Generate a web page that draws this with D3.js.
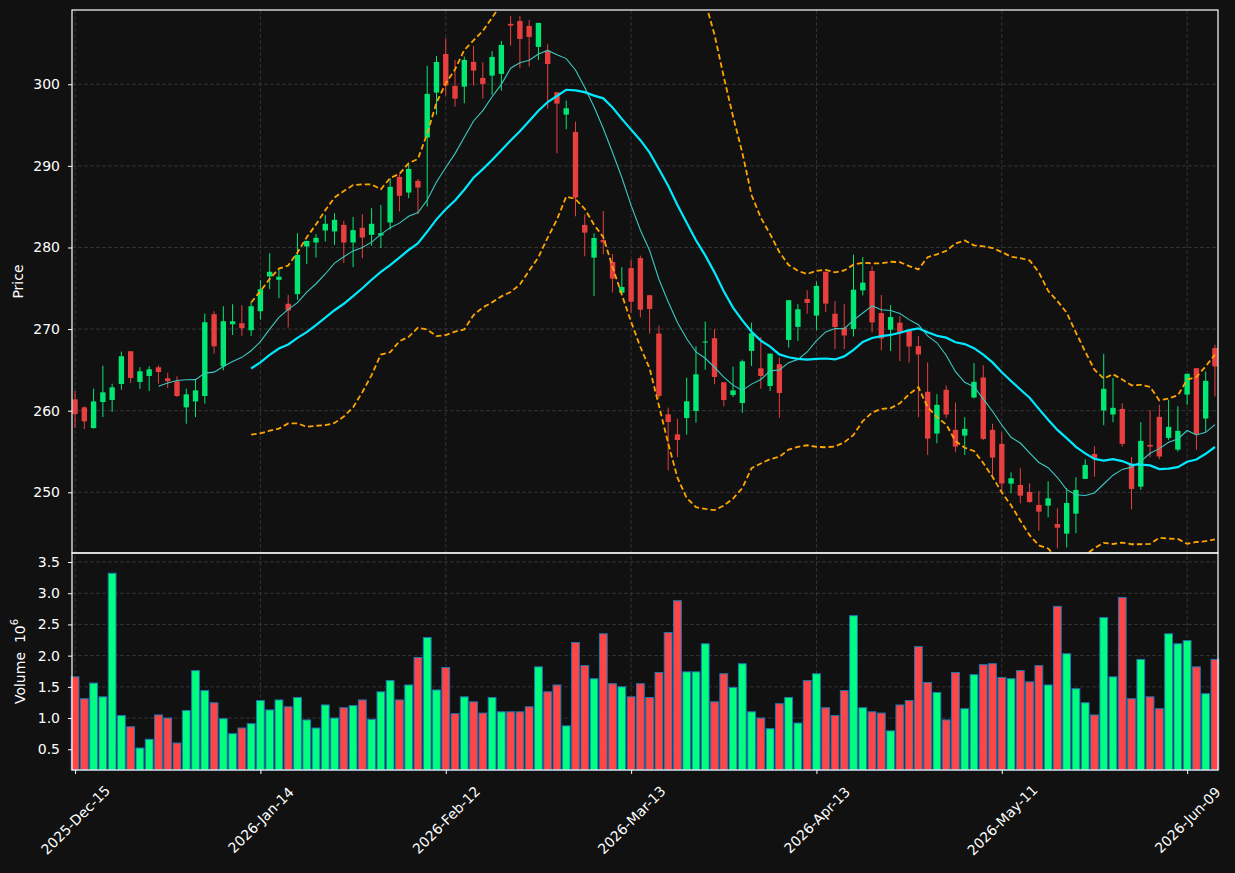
<!DOCTYPE html>
<html>
<head>
<meta charset="utf-8">
<script src="https://cdn.jsdelivr.net/npm/d3@7/dist/d3.min.js"></script>
<style>
  body { margin: 0; background: #111111; }
  text { font-family: "DejaVu Sans", sans-serif; }
</style>
</head>
<body>
<div id="chart"></div>
<script>
// OHLC + volume, one entry per trading day (index based x axis)
const opens = [261.39,260.41,257.87,261.06,261.31,263.27,267.28,263.52,264.25,265.32,263.97,263.60,260.41,261.14,261.80,271.82,265.44,270.59,270.72,269.86,
  272.19,276.45,276.04,273.10,274.28,280.12,280.61,282.08,281.96,282.77,280.61,282.41,281.55,281.47,283.06,288.65,286.73,288.16,293.47,298.98,
  303.71,299.80,299.71,302.74,300.78,301.06,301.27,307.40,307.76,307.15,304.58,304.13,299.02,296.28,294.16,282.76,278.75,280.92,278.22,274.46,
  277.47,278.70,274.15,269.45,259.55,257.10,259.10,259.96,268.39,268.88,263.48,261.92,260.94,267.32,265.19,263.02,265.69,268.67,270.27,273.69,
  271.65,277.03,271.88,270.16,270.00,274.74,277.12,271.96,269.92,270.78,269.80,267.91,262.31,257.20,262.56,257.65,256.95,261.62,264.07,257.65,
  255.93,251.06,250.90,250.04,248.45,248.36,246.11,244.93,247.38,251.64,254.70,260.02,259.53,260.22,253.48,250.69,255.81,259.24,256.67,255.23,
  261.98,265.21,259.04,267.67];
const highs = [262.41,260.53,262.70,265.52,263.31,267.24,267.30,265.32,265.44,265.56,264.66,264.21,262.70,263.80,271.90,272.19,272.80,273.04,272.92,273.30,
  275.99,279.30,277.26,274.20,281.75,280.81,281.63,283.96,284.20,283.26,283.75,284.08,284.81,285.22,288.49,288.98,290.20,288.41,302.25,303.47,
  305.63,302.98,303.39,304.70,302.70,304.05,305.31,308.38,308.38,307.89,307.52,304.90,299.02,298.00,295.42,284.06,281.74,284.47,279.20,277.57,
  278.50,279.00,274.15,270.43,260.37,259.02,264.05,267.89,270.92,270.00,263.48,265.40,266.26,270.80,269.04,267.00,266.50,273.54,273.05,274.76,
  275.82,277.03,273.44,273.07,279.12,278.83,277.69,274.17,272.94,271.60,269.80,269.14,265.91,262.02,263.09,261.00,259.20,265.83,265.58,258.38,
  257.34,252.45,252.94,251.10,250.16,251.35,248.04,250.49,251.84,254.05,255.64,266.97,264.03,260.92,254.34,258.59,260.06,260.72,261.33,260.55,
  264.52,265.21,264.81,268.08];
const lows = [257.91,257.75,257.80,259.22,259.84,262.58,263.39,262.66,262.41,263.31,262.78,261.68,258.40,259.22,260.86,266.99,264.95,269.28,269.16,269.16,
  271.17,274.90,273.79,270.20,273.59,277.96,278.77,280.73,280.32,278.08,277.59,278.69,280.20,279.92,282.16,284.41,286.04,284.08,285.02,296.24,
  298.60,297.26,297.67,299.84,298.24,298.69,299.22,304.74,301.96,302.17,302.98,297.02,291.54,294.48,283.82,278.92,274.05,279.16,274.50,274.38,
  272.00,271.43,269.45,261.47,252.68,254.31,257.06,258.53,265.03,263.23,260.53,261.68,259.75,265.48,262.70,262.40,259.14,267.73,268.55,271.90,
  269.85,272.09,267.55,267.55,269.10,274.13,269.59,267.38,267.30,266.07,265.90,259.20,254.58,256.01,259.08,254.91,254.58,261.50,256.40,251.72,
  249.88,249.88,248.65,248.71,245.30,246.93,243.13,243.25,244.97,251.60,251.92,258.22,258.59,255.60,247.91,250.29,254.29,254.05,256.42,254.99,
  260.72,255.19,257.44,261.74];
const closes = [259.59,258.69,261.14,262.25,262.86,266.67,264.01,264.83,265.07,264.74,263.60,261.80,262.00,262.49,270.84,267.89,270.96,270.96,270.10,272.80,
  274.89,277.02,276.41,272.28,279.10,280.81,281.18,282.90,283.39,280.61,282.12,281.22,282.90,281.75,287.43,286.33,289.63,287.35,298.82,302.73,
  299.84,298.24,302.98,301.68,300.04,303.35,304.82,307.19,305.56,305.80,307.52,302.49,297.63,297.06,286.11,281.82,281.16,280.63,276.18,275.16,
  273.35,272.37,272.47,261.80,258.61,256.40,261.15,264.46,268.47,264.13,261.31,262.49,266.05,269.49,264.25,266.99,262.17,273.54,272.43,273.21,
  275.29,273.12,270.25,269.22,274.83,275.69,270.82,268.85,271.47,269.47,267.87,266.89,256.58,260.72,259.53,255.60,257.77,263.54,256.54,254.25,
  251.08,251.72,249.59,248.81,247.63,249.26,245.66,248.69,250.29,253.35,254.21,262.68,260.35,255.93,250.41,256.30,255.60,254.38,258.02,257.53,
  264.52,257.12,263.66,265.42];
const volumes = [1.66,1.31,1.56,1.34,3.32,1.04,0.86,0.52,0.66,1.05,1.00,0.60,1.12,1.76,1.44,1.245,0.99,0.75,0.84,0.91,
  1.28,1.13,1.29,1.18,1.33,0.97,0.84,1.21,1.00,1.165,1.20,1.29,0.98,1.42,1.60,1.29,1.53,1.97,2.29,1.45,
  1.81,1.07,1.34,1.26,1.08,1.33,1.10,1.10,1.10,1.18,1.82,1.42,1.53,0.875,2.21,1.84,1.63,2.35,1.55,1.50,
  1.34,1.55,1.33,1.73,2.37,2.88,1.74,1.74,2.19,1.26,1.71,1.49,1.87,1.10,1.00,0.83,1.23,1.33,0.92,1.60,
  1.71,1.165,1.04,1.44,2.64,1.165,1.10,1.08,0.795,1.21,1.28,2.145,1.57,1.41,0.97,1.73,1.15,1.695,1.855,1.87,
  1.65,1.63,1.76,1.58,1.84,1.53,2.79,2.03,1.47,1.245,1.05,2.61,1.66,2.93,1.31,1.94,1.34,1.15,2.35,2.19,
  2.24,1.82,1.39,1.94];

const tickIdx = [0, 20, 40, 60, 80, 100, 120];
const tickLabels = ["2025-Dec-15", "2026-Jan-14", "2026-Feb-12", "2026-Mar-13", "2026-Apr-13", "2026-May-11", "2026-Jun-09"];
const priceTicks = [250, 260, 270, 280, 290, 300];
const volTicks = [0.5, 1.0, 1.5, 2.0, 2.5, 3.0, 3.5];

const upColor = "#00ff7f", downColor = "#ff4545";
const bg = "#111111";

// panel geometry
const left = 72, right = 1218, priceTop = 10, split = 553, volBottom = 770;

const svg = d3.select("#chart").append("svg")
    .attr("width", 1235)
    .attr("height", 873)
    .style("background", bg);

const n = closes.length;
const x = d3.scaleLinear().domain([-0.33, n - 1 + 0.33]).range([left, right]);
const y = d3.scaleLinear().domain([242.56, 309.1]).range([split, priceTop]);
const yv = d3.scaleLinear().domain([0.168, 3.644]).range([volBottom, split]);
const step = x(1) - x(0);

svg.append("clipPath").attr("id", "clipPrice")
    .append("rect").attr("x", left).attr("y", priceTop).attr("width", right - left).attr("height", split - priceTop);

// Grid
const grid = svg.append("g").attr("stroke", "#3c3c3c").attr("stroke-width", 0.8).attr("stroke-dasharray", "4,2");
tickIdx.forEach(i => {
    grid.append("line").attr("x1", x(i)).attr("x2", x(i)).attr("y1", priceTop).attr("y2", volBottom);
});
priceTicks.forEach(p => {
    grid.append("line").attr("x1", left).attr("x2", right).attr("y1", y(p)).attr("y2", y(p));
});
volTicks.forEach(v => {
    grid.append("line").attr("x1", left).attr("x2", right).attr("y1", yv(v)).attr("y2", yv(v));
});

// Candles
const candles = svg.append("g").attr("clip-path", "url(#clipPrice)").attr("opacity", 0.9);
const idx = d3.range(n);
candles.selectAll(".wick").data(idx).enter().append("line")
    .attr("x1", i => x(i)).attr("x2", i => x(i))
    .attr("y1", i => y(highs[i])).attr("y2", i => y(lows[i]))
    .attr("stroke", i => closes[i] >= opens[i] ? upColor : downColor)
    .attr("stroke-width", 1);
const bodyW = step * 0.58;
candles.selectAll(".body").data(idx).enter().append("rect")
    .attr("x", i => x(i) - bodyW / 2)
    .attr("width", bodyW)
    .attr("y", i => y(Math.max(opens[i], closes[i])))
    .attr("height", i => Math.max(1, Math.abs(y(opens[i]) - y(closes[i]))))
    .attr("fill", i => closes[i] >= opens[i] ? upColor : downColor);

// Moving averages and Bollinger bands (20, 2)
function rolling(len, fn) {
    return closes.map((c, i) => i < len - 1 ? null : fn(closes.slice(i - len + 1, i + 1)));
}
const ma10 = rolling(10, w => d3.mean(w));
const ma20 = rolling(20, w => d3.mean(w));
const sd20 = rolling(20, w => { const m = d3.mean(w); return Math.sqrt(d3.mean(w, v => (v - m) ** 2)); });
const bbUp = ma20.map((m, i) => m == null ? null : m + 2 * sd20[i]);
const bbLo = ma20.map((m, i) => m == null ? null : m - 2 * sd20[i]);

const line = d3.line().defined(d => d != null).x((d, i) => x(i)).y(d => y(d));
const lines = svg.append("g").attr("clip-path", "url(#clipPrice)").attr("fill", "none");
[bbUp, bbLo].forEach(s => {
    lines.append("path").datum(s).attr("d", line)
        .attr("stroke", "#ffa500").attr("stroke-width", 1.8).attr("stroke-dasharray", "5.5,3");
});
lines.append("path").datum(ma10).attr("d", line).attr("stroke", "#3cc9c2").attr("stroke-width", 1.1);
lines.append("path").datum(ma20).attr("d", line).attr("stroke", "#00eaff").attr("stroke-width", 2.2);

// Volume bars
const barW = step * 0.84;
svg.append("g").selectAll("rect").data(idx).enter().append("rect")
    .attr("x", i => x(i) - barW / 2)
    .attr("width", barW)
    .attr("y", i => yv(volumes[i]))
    .attr("height", i => yv.range()[0] - yv(volumes[i]))
    .attr("fill", i => closes[i] >= opens[i] ? upColor : downColor)
    .attr("stroke", "#1f77b4")
    .attr("stroke-width", 1);

// Panel frames
const frame = svg.append("g").attr("fill", "none").attr("stroke", "#ffffff").attr("stroke-width", 1.2);
frame.append("rect").attr("x", left).attr("y", priceTop).attr("width", right - left).attr("height", split - priceTop);
frame.append("rect").attr("x", left).attr("y", split).attr("width", right - left).attr("height", volBottom - split);

// Axes
function styleAxis(g) {
    g.select(".domain").remove();
    g.selectAll(".tick line").attr("stroke", "#ffffff");
    g.selectAll(".tick text").attr("fill", "#ffffff").style("font-size", "14px").style("font-family", "DejaVu Sans");
}
svg.append("g").attr("transform", `translate(${left},0)`)
    .call(d3.axisLeft(y).tickValues(priceTicks).tickSize(4).tickPadding(8).tickFormat(d3.format("d")))
    .call(styleAxis);
svg.append("g").attr("transform", `translate(${left},0)`)
    .call(d3.axisLeft(yv).tickValues(volTicks).tickSize(4).tickPadding(8).tickFormat(d3.format(".1f")))
    .call(styleAxis);
const xAxis = svg.append("g").attr("transform", `translate(0,${volBottom})`)
    .call(d3.axisBottom(x).tickValues(tickIdx).tickSize(4).tickFormat((d, i) => tickLabels[i]))
    .call(styleAxis);
xAxis.selectAll(".tick text")
    .attr("y", 0).attr("dy", null)
    .attr("text-anchor", "middle")
    .attr("dominant-baseline", "central")
    .attr("transform", "translate(0,50) rotate(-45)");

// Axis labels
svg.append("text")
    .attr("transform", `translate(23,${(priceTop + split) / 2}) rotate(-90)`)
    .attr("text-anchor", "middle")
    .attr("fill", "#ffffff")
    .style("font-size", "14px")
    .text("Price");
const vLabel = svg.append("text")
    .attr("transform", `translate(25,${(split + volBottom) / 2}) rotate(-90)`)
    .attr("text-anchor", "middle")
    .attr("fill", "#ffffff")
    .style("font-size", "14px");
vLabel.append("tspan").text("Volume\u00a0\u00a010");
vLabel.append("tspan").attr("dy", -7).style("font-size", "10px").text("6");
</script>
</body>
</html>
